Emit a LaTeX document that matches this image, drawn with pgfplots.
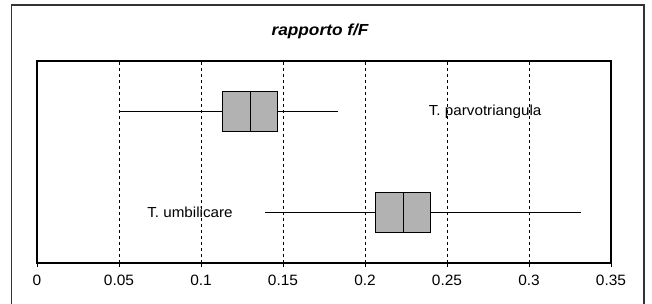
\documentclass[border=0pt]{standalone}
\usepackage{fontspec}
\setmainfont{Liberation Sans}
\usepackage{pgfplots}
\pgfplotsset{compat=1.18}
\usepgfplotslibrary{statistics}
\begin{document}
\begin{tikzpicture}[x=1pt,y=1pt]
\useasboundingbox (0,0) rectangle (652,303);
\draw[line width=1.2pt, black!80] (11.7,-3) -- (11.7,298) -- (644,298) -- (644,-3);
\node[font=\fontsize{16}{18}\selectfont\bfseries\itshape, xscale=1.08] at (320,271.5) {rapporto f/F};
\begin{axis}[
  at={(37pt,40pt)}, anchor=south west,
  scale only axis, width=574pt, height=202pt,
  xmin=0, xmax=0.35, ymin=0.5, ymax=2.5,
  xtick={0,0.05,0.1,0.15,0.2,0.25,0.3,0.35},
  xticklabels={0,0.05,0.1,0.15,0.2,0.25,0.3,0.35},
  ytick=\empty,
  tick align=outside, major tick length=4pt,
  xtick pos=bottom,
  xticklabel style={font=\fontsize{15}{17}\selectfont, xscale=1.03, yshift=-4pt},
  xmajorgrids,
  grid style={black, line width=0.9pt, dash pattern=on 3pt off 3pt},
  axis line style={black, line width=1.2pt},
  tick style={black, line width=0.9pt},
  every axis plot/.append style={solid},
]
\addplot+[mark=none, draw=black, line width=1pt, fill=black!30,
  boxplot prepared={lower whisker=0.05, lower quartile=0.1132, median=0.1299,
    upper quartile=0.1468, upper whisker=0.1836, draw position=2,
    box extend=0.4, whisker extend=0}] coordinates {};
\addplot+[mark=none, draw=black, line width=1pt, fill=black!30,
  boxplot prepared={lower whisker=0.139, lower quartile=0.2065, median=0.2234,
    upper quartile=0.2401, upper whisker=0.332, draw position=1,
    box extend=0.4, whisker extend=0}] coordinates {};
\node[anchor=west, font=\fontsize{14.5}{16}\selectfont, xscale=1.05, inner sep=0pt] at (axis cs:0.2388,2) {T. parvotriangula};
\node[anchor=west, font=\fontsize{14.5}{16}\selectfont, xscale=1.05, inner sep=0pt] at (axis cs:0.0671,1) {T. umbilicare};
\end{axis}
\end{tikzpicture}
\end{document}
